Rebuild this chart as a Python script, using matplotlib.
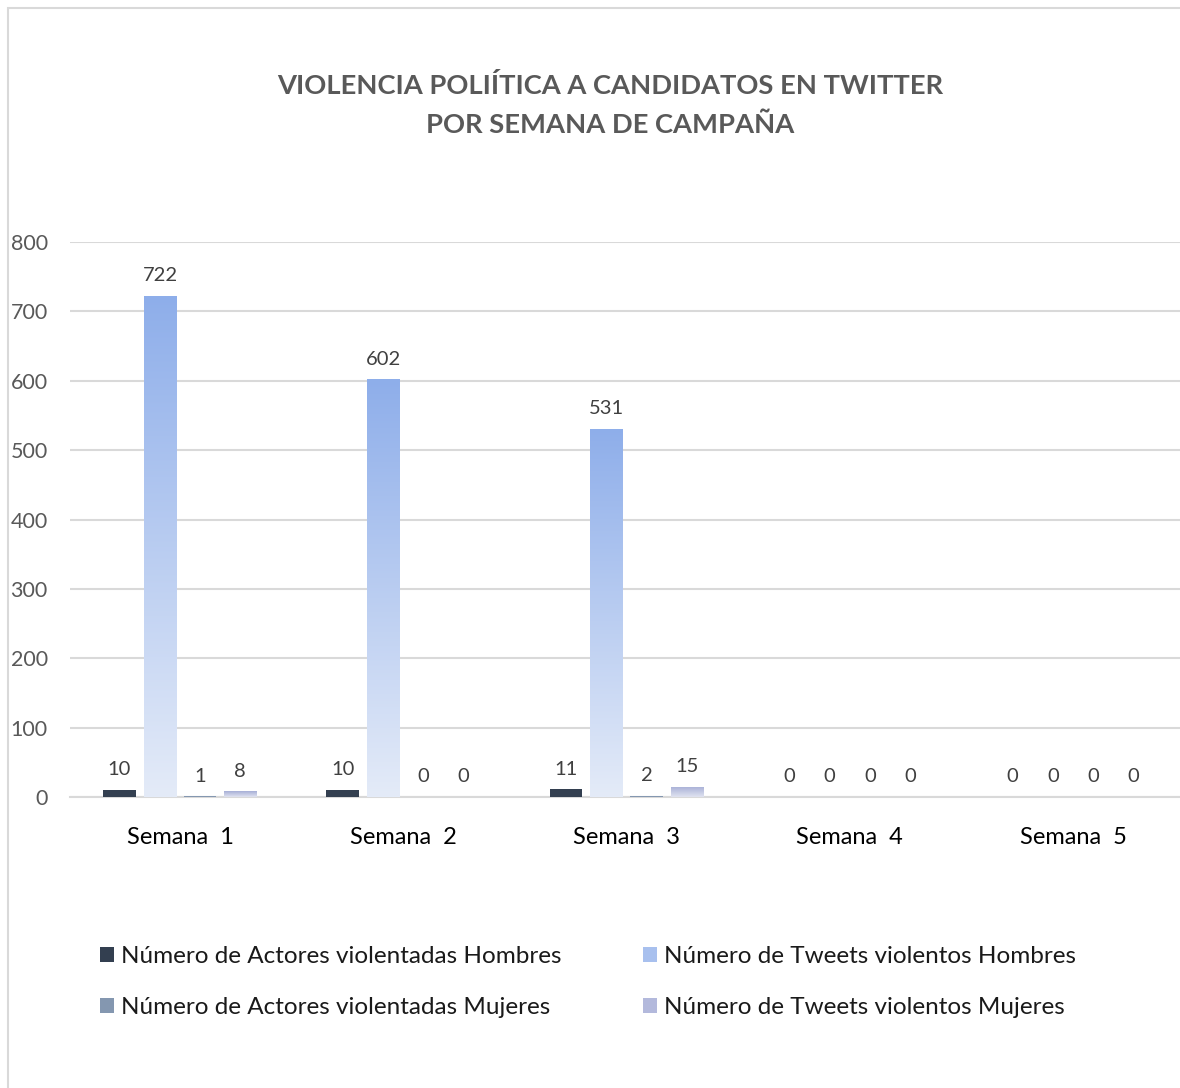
import matplotlib
matplotlib.use("Agg")
import matplotlib.pyplot as plt
import numpy as np
from matplotlib.patches import Rectangle, Patch
from matplotlib.colors import LinearSegmentedColormap

plt.rcParams['font.family'] = ['Lato', 'DejaVu Sans']

categories = ["Semana  1", "Semana  2", "Semana  3", "Semana  4", "Semana  5"]
actores_hombres = [10, 10, 11, 0, 0]
tweets_hombres = [722, 602, 531, 0, 0]
actores_mujeres = [1, 0, 2, 0, 0]
tweets_mujeres = [8, 0, 15, 0, 0]
series_names = ["Número de Actores violentadas Hombres", "Número de Tweets violentos Hombres",
                "Número de Actores violentadas Mujeres", "Número de Tweets violentos Mujeres"]
yticks = [0, 100, 200, 300, 400, 500, 600, 700, 800]

W, H = 1180, 1088
fig = plt.figure(figsize=(W/100, H/100), dpi=100)
fig.patches.append(Rectangle((8/W, -0.01), 1.02, (H-8)/H + 0.01, transform=fig.transFigure,
                             fill=False, edgecolor='#d9d9d9', linewidth=1.5))

ax = fig.add_axes([70/W, (H-797)/H, (1180-70)/W, (797-242)/H])
x = np.arange(len(categories))
offsets = [-0.272, -0.09, 0.09, 0.27]
bw = 0.145

series = [actores_hombres, tweets_hombres, actores_mujeres, tweets_mujeres]
solid_colors = ['#333f50', None, '#8497b0', None]
grads = [None, ('#e4ebf8', '#8eaeea'), None, ('#e0e3f0', '#a6aed6')]
legend_colors = ['#333f50', '#a8c0ee', '#8497b0', '#b3b9dc']

for s, vals, off in zip(range(4), series, offsets):
    if solid_colors[s]:
        bars = ax.bar(x + off, vals, bw, color=solid_colors[s], zorder=3)
    else:
        bars = ax.bar(x + off, vals, bw, color='none', zorder=3)
        cmap = LinearSegmentedColormap.from_list('g', list(grads[s]))
        for b in bars:
            if b.get_height() <= 0:
                continue
            x0, y0 = b.get_x(), b.get_y()
            im = ax.imshow(np.linspace(0, 1, 256).reshape(-1, 1), cmap=cmap, origin='lower',
                           extent=[x0, x0 + b.get_width(), y0, y0 + b.get_height()],
                           aspect='auto', zorder=3)
            im.set_clip_path(b)
    for b, v in zip(bars, vals):
        ax.annotate(str(v), (b.get_x() + b.get_width()/2, v), xytext=(0, 8.5), textcoords='offset points',
                    ha='center', va='bottom', fontsize=14.5, color='#404040')

ax.set_xlim(-0.493, 4.479)
ax.set_ylim(0, 800)
ax.set_yticks(yticks)
ax.set_yticklabels([str(t) for t in yticks], fontsize=15.5, color='#595959')
ax.set_xticks(x)
ax.set_xticklabels(categories, fontsize=17, color='#000000')
ax.tick_params(axis='both', length=0)
ax.tick_params(axis='y', pad=16)
ax.tick_params(axis='x', pad=21.5)
ax.grid(axis='y', color='#d9d9d9', linewidth=1.5, zorder=0)
ax.set_axisbelow(True)
for sp in ['top', 'right', 'left']:
    ax.spines[sp].set_visible(False)
ax.spines['bottom'].set_color('#d9d9d9')
ax.spines['bottom'].set_linewidth(1.5)

fig.text(610/W, 1 - 86/H, "VIOLENCIA POLIÍTICA A CANDIDATOS EN TWITTER", ha='center', va='center',
         fontsize=19.7, fontweight='bold', color='#595959')
fig.text(610/W, 1 - 125/H, "POR SEMANA DE CAMPAÑA", ha='center', va='center',
         fontsize=19.7, fontweight='bold', color='#595959')

handles = [Patch(facecolor=c, edgecolor='none') for c in legend_colors]
leg_kw = dict(frameon=False, fontsize=17.5, handlelength=0.57, handleheight=0.57,
              handletextpad=0.3, labelspacing=1.25, borderpad=0, borderaxespad=0,
              loc='center left')
for cols, x0 in [([0, 2], 100), ([1, 3], 643)]:
    lg = fig.legend([handles[i] for i in cols], [series_names[i] for i in cols],
                    bbox_to_anchor=(x0/W, 1 - 982/H), **leg_kw)
    for t in lg.get_texts():
        t.set_color('#1a1a1a')

fig.savefig("out.png", dpi=100)
